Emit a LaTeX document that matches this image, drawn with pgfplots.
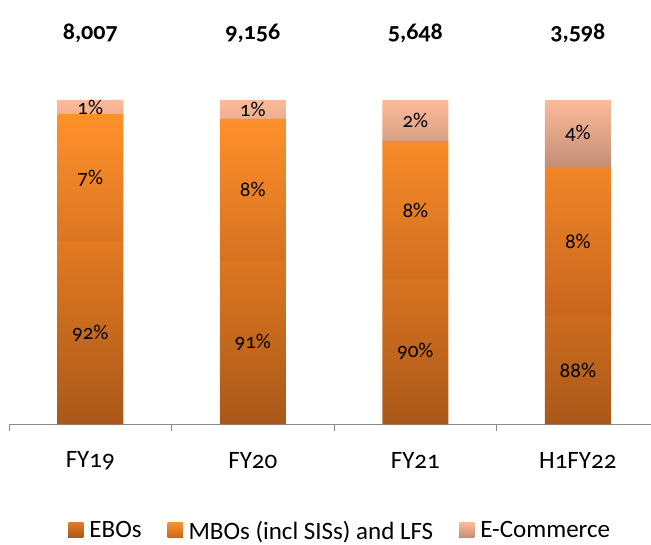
\documentclass[border=0pt]{standalone}
\usepackage{pgfplots}
\pgfplotsset{compat=1.18}
\usepackage{fontspec}
\setmainfont{Carlito}[Numbers=OldStyle]

\definecolor{eboTop}{HTML}{E27A22}
\definecolor{eboBot}{HTML}{AA5819}
\definecolor{mboTop}{HTML}{FF912A}
\definecolor{mboBot}{HTML}{C8661F}
\definecolor{ecoTop}{HTML}{FDBA99}
\definecolor{ecoBot}{HTML}{C38E76}
\definecolor{axgray}{HTML}{8C8C8C}

\newcommand{\lblfont}{\fontsize{21}{24}\selectfont}
\newcommand{\bigfont}{\fontsize{25}{28}\selectfont}

\pgfplotsset{
  base/.style={at={(9pt,120.5pt)}, anchor=south west, scale only axis,
    width=642pt, height=424.5pt, xmin=-0.5, xmax=3.45, ymin=0, ymax=130.8,
    clip=false},
  sq/.style={legend image code/.code={\fill[##1] (0pt,-7pt) rectangle (15pt,8pt);}},
}

\begin{document}
\begin{tikzpicture}
\useasboundingbox (0,0) rectangle (651pt,545pt);

\begin{axis}[base,
  ybar stacked, bar width=66pt,
  axis x line*=bottom, axis y line=none,
  x axis line style={draw=axgray, line width=1pt, -},
  xtick={-0.5,0.5,1.5,2.5}, xticklabels={,,,},
  extra x ticks={0,1,2,3},
  extra x tick labels={FY19,FY20,FY21,H1FY22},
  extra x tick style={major tick length=0pt,
    tick label style={anchor=center, yshift=-36pt}},
  tick align=outside, major tick length=7pt,
  tick style={draw=axgray, line width=1pt},
  xticklabel style={font=\bigfont},
  legend columns=3,
  legend style={draw=none, fill=none, at={(0.516,-0.25)}, anchor=center,
    font=\bigfont,
    /tikz/every odd column/.append style={column sep=4pt},
    /tikz/every even column/.append style={column sep=24pt}},
]
\addplot[sq, draw=none, top color=eboTop, bottom color=eboBot]
  coordinates {(0,56.2) (1,50.4) (2,44.8) (3,33.4)};
\addplot[sq, draw=none, top color=mboTop, bottom color=mboBot]
  coordinates {(0,39.4) (1,43.8) (2,42.5) (3,45.9)};
\addplot[sq, draw=none, top color=ecoTop, bottom color=ecoBot]
  coordinates {(0,4.4) (1,5.8) (2,12.7) (3,20.7)};
\legend{EBOs, MBOs (incl SISs) and LFS, E-Commerce}
\end{axis}

\begin{axis}[base, hide axis]
\addplot[draw=none, mark=none, point meta=explicit symbolic,
  nodes near coords, nodes near coords style={anchor=center, font=\lblfont}]
  coordinates {
    (0,28.1)[92\%] (0,75.9)[7\%] (0,97.8)[1\%]
    (1,25.2)[91\%] (1,72.3)[8\%] (1,97.1)[1\%]
    (2,22.4)[90\%] (2,66.1)[8\%] (2,93.7)[2\%]
    (3,16.7)[88\%] (3,56.4)[8\%] (3,89.7)[4\%]
  };
\addplot[draw=none, mark=none, point meta=explicit symbolic,
  nodes near coords, nodes near coords style={anchor=center, font=\fontsize{24}{28}\selectfont\bfseries}]
  coordinates {(0,120.6)[8,007] (1,120.6)[9,156] (2,120.6)[5,648] (3,120.6)[3,598]};
\end{axis}
\end{tikzpicture}
\end{document}
